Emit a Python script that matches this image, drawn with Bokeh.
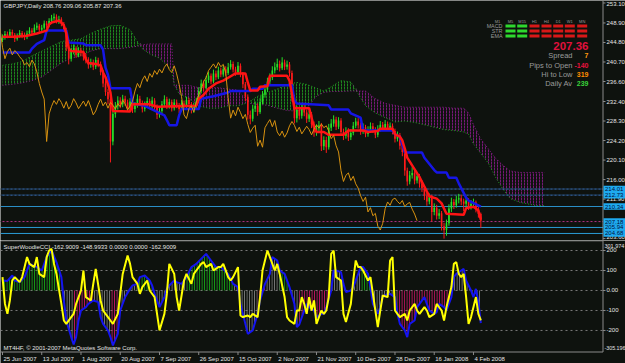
import numpy as np
from bokeh.plotting import figure
from bokeh.models import Range1d, Span
from bokeh.layouts import column
from bokeh.embed import file_html
from bokeh.resources import INLINE
from bokeh.core.properties import value

# ------------------------------------------------------------------ data
title_text = "GBPJPY,Daily  208.76 209.06 205.87 207.36"
date_tick_bars = [0, 16, 32, 48, 64, 80, 96, 112, 128, 144, 160, 176, 192]
date_tick_labels = ["25 Jun 2007", "13 Jul 2007", "1 Aug 2007", "20 Aug 2007", "7 Sep 2007",
                    "26 Sep 2007", "15 Oct 2007", "2 Nov 2007", "21 Nov 2007", "10 Dec 2007",
                    "28 Dec 2007", "16 Jan 2008", "4 Feb 2008"]
price_ticks = [253.10, 248.90, 244.80, 240.70, 236.60, 232.40, 228.30, 224.20, 220.10, 216.00, 211.90, 203.60]
price_tick_labels = ["253.10", "248.90", "244.80", "240.70", "236.60", "232.40", "228.30", "224.20",
                     "220.10", "216.00", "211.90", "203.60"]
cci_ticks = [200, 100, 0, -100, -200]
cci_tick_labels = ["200", "100", "0.00", "-100", "-200"]

opens = [245.3, 245.8, 246.6, 246.2, 247.0, 246.4, 245.6, 246.1, 246.8, 246.3,
         245.9, 246.7, 247.3, 246.9, 247.9, 248.3, 247.5, 247.9, 248.8, 248.4,
         249.3, 249.9, 250.2, 249.2, 249.7, 248.7, 247.6, 243.8, 241.4, 242.9,
         243.6, 242.2, 243.1, 242.6, 241.8, 241.2, 240.1, 240.6, 239.7, 241.1,
         240.3, 238.6, 236.2, 234.4, 232.9, 224.0, 229.8, 231.4, 232.6, 231.8,
         233.0, 232.2, 231.0, 232.4, 230.8, 231.6, 233.0, 232.1, 230.9, 231.7,
         232.5, 231.4, 232.6, 231.2, 229.6, 230.4, 231.8, 232.9, 231.5, 232.3,
         231.0, 232.2, 231.6, 230.8, 232.0, 231.3, 232.7, 231.9, 230.6, 231.5,
         232.4, 234.6, 236.2, 235.3, 236.9, 237.8, 236.6, 238.3, 237.5, 238.9,
         238.1, 239.2, 238.4, 239.6, 240.3, 239.1, 238.5, 239.9, 238.2, 236.0,
         233.4, 229.6, 228.8, 230.9, 231.5, 230.2, 232.3, 233.8, 234.9, 236.6,
         237.4, 238.9, 239.6, 240.3, 239.4, 240.6, 239.7, 240.2, 238.4, 233.2,
         228.9, 230.6, 229.4, 231.2, 230.1, 228.8, 229.7, 227.6, 225.9, 226.8,
         227.4, 223.0, 224.3, 222.8, 226.9, 227.8, 228.6, 227.1, 228.4, 226.0,
         225.2, 226.2, 224.9, 225.8, 227.3, 228.2, 227.4, 226.1, 227.0, 225.6,
         226.4, 227.2, 226.5, 225.4, 226.6, 227.5, 226.8, 227.7, 226.9, 227.3,
         226.2, 224.6, 225.3, 223.1, 221.8, 217.9, 215.6, 216.9, 217.4, 215.8,
         216.7, 215.1, 214.2, 212.6, 211.4, 212.3, 209.2, 210.1, 208.4, 208.9,
         206.2, 205.4, 206.8, 209.9, 211.3, 210.6, 211.8, 212.1, 211.4, 210.9,
         211.6, 210.3, 210.9, 211.2, 209.8, 208.76]
highs = [246.5, 247.2, 247.1, 247.6, 247.5, 246.8, 246.7, 247.4, 247.2, 246.9,
         247.3, 248.0, 247.8, 248.6, 249.0, 248.7, 248.5, 249.4, 249.3, 249.9,
         250.6, 250.9, 250.7, 250.4, 250.1, 249.1, 247.9, 244.5, 243.6, 244.4,
         244.0, 243.8, 243.7, 243.1, 242.5, 241.7, 241.4, 241.2, 241.8, 241.6,
         240.8, 239.0, 236.9, 235.0, 233.5, 230.6, 232.3, 233.5, 233.3, 233.8,
         233.6, 232.8, 233.1, 232.9, 232.3, 233.9, 233.6, 232.6, 232.4, 233.3,
         233.0, 233.4, 233.1, 231.8, 231.2, 232.5, 233.7, 233.4, 233.0, 232.8,
         232.9, 232.8, 232.1, 232.7, 232.6, 233.4, 233.2, 232.3, 232.1, 233.2,
         235.4, 237.0, 236.8, 237.7, 238.6, 238.3, 239.1, 238.9, 239.7, 239.5,
         240.0, 239.8, 240.5, 241.1, 240.8, 239.7, 240.7, 240.4, 238.6, 236.5,
         233.9, 230.5, 231.7, 232.4, 232.0, 233.1, 234.6, 235.7, 237.4, 238.3,
         239.8, 240.6, 241.4, 241.0, 241.7, 241.2, 241.0, 240.7, 238.9, 233.8,
         231.5, 231.3, 232.0, 231.9, 230.7, 230.5, 230.2, 228.2, 227.6, 228.3,
         227.9, 225.1, 225.0, 227.7, 228.7, 229.5, 229.2, 229.1, 228.9, 226.7,
         227.0, 226.8, 226.6, 228.1, 229.0, 228.9, 228.0, 227.8, 227.5, 227.2,
         228.0, 227.9, 227.0, 227.4, 228.3, 228.1, 228.5, 228.2, 228.0, 227.8,
         226.7, 226.1, 225.8, 223.7, 222.4, 218.5, 217.8, 218.6, 218.0, 217.6,
         217.2, 215.8, 214.8, 213.2, 213.1, 212.8, 211.0, 210.7, 209.8, 209.4,
         206.9, 207.6, 210.8, 212.2, 211.9, 212.6, 213.0, 212.8, 212.0, 212.4,
         212.1, 211.7, 212.0, 211.6, 210.3, 209.06]
lows = [244.9, 245.4, 245.7, 245.9, 245.8, 244.9, 245.2, 245.8, 245.7, 245.3,
        245.5, 246.3, 246.4, 246.5, 247.4, 247.0, 247.1, 247.5, 247.8, 248.0,
        248.9, 249.4, 248.8, 248.7, 248.2, 247.0, 243.0, 240.2, 240.8, 242.3,
        241.6, 241.7, 241.9, 241.0, 240.4, 239.3, 239.5, 239.0, 239.2, 239.6,
        237.9, 235.4, 233.6, 231.8, 219.6, 223.2, 229.0, 230.7, 231.0, 231.2,
        231.5, 230.2, 230.5, 230.0, 230.1, 231.1, 231.5, 230.1, 230.3, 231.2,
        230.8, 230.9, 230.5, 228.7, 229.0, 229.9, 231.3, 230.8, 230.9, 230.3,
        230.5, 231.0, 230.0, 230.3, 230.6, 230.9, 231.2, 229.9, 230.0, 231.0,
        232.0, 234.1, 234.6, 234.9, 236.3, 236.0, 236.2, 236.9, 237.1, 237.5,
        237.6, 237.8, 238.0, 239.1, 238.5, 237.8, 238.1, 237.5, 235.2, 232.5,
        228.6, 227.6, 228.2, 230.2, 229.4, 229.8, 231.8, 233.2, 234.4, 236.0,
        236.9, 238.3, 239.0, 238.7, 239.0, 239.0, 239.1, 237.6, 232.4, 227.8,
        228.0, 228.6, 228.8, 229.3, 227.9, 228.1, 226.8, 225.0, 225.2, 226.1,
        222.0, 222.2, 221.6, 222.3, 226.2, 227.1, 226.4, 226.6, 225.2, 224.3,
        224.6, 224.1, 224.3, 225.3, 226.8, 226.7, 225.4, 225.6, 224.9, 225.0,
        225.9, 225.8, 224.7, 224.9, 226.1, 226.2, 226.3, 226.3, 226.4, 225.5,
        223.8, 224.0, 222.3, 220.9, 216.8, 214.7, 215.0, 216.2, 215.0, 215.2,
        214.3, 213.4, 211.7, 210.5, 210.8, 207.2, 208.5, 207.6, 207.7, 205.3,
        203.6, 204.2, 206.3, 209.2, 209.8, 210.1, 211.0, 210.6, 209.4, 210.3,
        209.6, 209.7, 210.2, 209.1, 208.0, 205.87]
closes = [245.8, 246.6, 246.2, 247.0, 246.4, 245.6, 246.1, 246.8, 246.3, 245.9,
          246.7, 247.3, 246.9, 247.9, 248.3, 247.5, 247.9, 248.8, 248.4, 249.3,
          249.9, 250.2, 249.2, 249.7, 248.7, 247.6, 243.8, 241.4, 242.9, 243.6,
          242.2, 243.1, 242.6, 241.8, 241.2, 240.1, 240.6, 239.7, 241.1, 240.3,
          238.6, 236.2, 234.4, 232.9, 224.0, 229.8, 231.4, 232.6, 231.8, 233.0,
          232.2, 231.0, 232.4, 230.8, 231.6, 233.0, 232.1, 230.9, 231.7, 232.5,
          231.4, 232.6, 231.2, 229.6, 230.4, 231.8, 232.9, 231.5, 232.3, 231.0,
          232.2, 231.6, 230.8, 232.0, 231.3, 232.7, 231.9, 230.6, 231.5, 232.4,
          234.6, 236.2, 235.3, 236.9, 237.8, 236.6, 238.3, 237.5, 238.9, 238.1,
          239.2, 238.4, 239.6, 240.3, 239.1, 238.5, 239.9, 238.2, 236.0, 233.4,
          229.6, 228.8, 230.9, 231.5, 230.2, 232.3, 233.8, 234.9, 236.6, 237.4,
          238.9, 239.6, 240.3, 239.4, 240.6, 239.7, 240.2, 238.4, 233.2, 228.9,
          230.6, 229.4, 231.2, 230.1, 228.8, 229.7, 227.6, 225.9, 226.8, 227.4,
          223.0, 224.3, 222.8, 226.9, 227.8, 228.6, 227.1, 228.4, 226.0, 225.2,
          226.2, 224.9, 225.8, 227.3, 228.2, 227.4, 226.1, 227.0, 225.6, 226.4,
          227.2, 226.5, 225.4, 226.6, 227.5, 226.8, 227.7, 226.9, 227.3, 226.2,
          224.6, 225.3, 223.1, 221.8, 217.9, 215.6, 216.9, 217.4, 215.8, 216.7,
          215.1, 214.2, 212.6, 211.4, 212.3, 209.2, 210.1, 208.4, 208.9, 206.2,
          205.4, 206.8, 209.9, 211.3, 210.6, 211.8, 212.1, 211.4, 210.9, 211.6,
          210.3, 210.9, 211.2, 209.8, 208.76, 207.36]

tenkan_bars = [0, 5, 10, 14, 18, 19, 20, 23, 24, 25, 26, 27, 28, 33, 34, 35, 38, 40, 41, 42,
               43, 44, 45, 52, 53, 60, 63, 70, 79, 80, 82, 84, 87, 90, 92, 95, 99, 100, 101, 104,
               105, 108, 109, 116, 117, 118, 119, 125, 126, 127, 128, 131, 133, 139, 141, 147, 149, 153, 154, 159,
               160, 162, 163, 164, 165, 170, 174, 177, 179, 181, 188, 189, 192, 194, 195]
tenkan_vals = [246.0, 246.0, 246.2, 246.7, 247.3, 248.6, 249.0, 249.4, 249.0, 248.4, 246.7, 243.5, 243.0, 242.8, 241.2, 240.5, 240.3, 240.0, 238.5, 237.5,
               236.0, 234.3, 230.4, 230.3, 231.8, 231.8, 231.3, 231.4, 231.5, 233.0, 233.8, 235.1, 236.2, 236.8, 237.4, 238.3, 238.3, 236.4, 234.7, 234.7,
               235.5, 235.6, 237.8, 237.8, 236.8, 234.0, 231.0, 231.0, 229.0, 227.0, 226.0, 226.0, 225.4, 225.4, 226.3, 226.3, 226.0, 226.2, 226.7, 226.7,
               225.5, 225.0, 224.2, 222.5, 220.6, 216.5, 212.5, 212.0, 211.0, 208.8, 208.6, 210.0, 210.3, 209.5, 207.6]
kijun_bars = [0, 11, 12, 14, 17, 18, 26, 27, 33, 34, 40, 41, 42, 43, 44, 52, 53, 58, 62, 66,
              67, 68, 71, 72, 73, 80, 81, 86, 92, 93, 101, 102, 106, 107, 118, 119, 120, 133, 134, 141,
              142, 146, 147, 159, 160, 162, 164, 171, 172, 176, 177, 181, 182, 185, 186, 189, 190, 195]
kijun_vals = [242.7, 242.7, 243.5, 244.5, 245.3, 247.3, 247.3, 244.8, 244.6, 244.2, 244.2, 243.3, 239.5, 238.0, 235.2, 235.2, 232.0, 231.5, 230.5, 229.5,
              228.5, 227.4, 227.4, 229.5, 230.8, 230.8, 233.0, 233.5, 234.3, 234.6, 234.6, 235.1, 235.1, 235.8, 235.8, 232.6, 232.0, 231.6, 230.7, 230.7,
              229.9, 229.0, 226.3, 226.3, 225.5, 225.0, 221.7, 221.7, 220.6, 218.0, 217.5, 217.5, 216.4, 216.4, 215.2, 212.2, 211.6, 210.3]

cloud_bars = [0, 4, 8, 12, 16, 20, 24, 28, 32, 36, 40, 44, 48, 52, 55, 57, 60, 64, 67, 69,
              70, 72, 76, 80, 84, 88, 92, 96, 99, 101, 104, 108, 112, 116, 120, 124, 128, 131, 134, 138,
              142, 145, 148, 152, 156, 160, 164, 168, 172, 176, 180, 184, 188, 190, 192, 195, 198, 201, 204, 207,
              211, 215, 218, 221]
senkou_a = [240.0, 240.3, 240.8, 242.0, 243.0, 244.0, 245.0, 245.3, 245.6, 246.7, 247.6, 248.3, 248.4, 247.5, 245.0, 243.5, 242.4, 241.5, 240.0, 239.0,
            236.0, 234.0, 233.0, 231.5, 231.0, 231.0, 231.5, 231.5, 232.0, 232.5, 233.5, 234.3, 235.0, 236.0, 236.4, 236.0, 235.2, 234.6, 235.5, 236.8,
            236.5, 234.0, 231.5, 230.0, 229.0, 228.1, 228.3, 228.0, 227.5, 227.0, 226.5, 226.3, 226.0, 225.5, 223.5, 221.5, 219.5, 216.5, 214.0, 212.0,
            211.2, 210.8, 210.5, 210.5]
senkou_b = [235.8, 236.0, 236.3, 236.8, 237.5, 239.0, 240.5, 241.5, 242.0, 243.0, 243.5, 243.5, 243.5, 243.8, 244.0, 244.3, 244.5, 244.5, 244.5, 244.5,
            235.6, 235.8, 235.8, 235.3, 235.3, 235.3, 235.0, 234.8, 233.0, 232.0, 231.8, 231.6, 231.0, 230.5, 230.4, 231.0, 233.5, 234.3, 234.5, 234.5,
            234.6, 234.6, 234.6, 233.0, 232.0, 231.6, 231.2, 231.2, 231.2, 231.2, 231.2, 231.0, 231.0, 230.0, 227.5, 224.5, 222.5, 220.5, 219.0, 217.8,
            217.5, 217.5, 217.5, 217.5]
chikou_shift = 26

level_prices = [214.01, 212.73, 210.34, 207.18, 205.94, 204.68]
level_labels = ["214.01", "212.73", "210.34", "207.18", "205.94", "204.68"]
level_colors = ["#3a74c0", "#3a74c0", "#2a8ec6", "#b03280", "#2a9cd6", "#2a9cd6"]
level_dashes = ["2 2", "2 2", "solid", "2 2", "solid", "solid"]

tf_names = ["M1", "M5", "M15", "H1", "H4", "D1", "W1", "MN"]
sig_rows = ["MACD", "STR", "EMA"]
sig_macd = [1, 1, -1, -1, -1, -1, -1]
sig_str = [1, 1, -1, -1, -1, -1, -1]
sig_ema = [1, 1, -1, -1, -1, -1, -1]

price_now = "207.36"
stat_names = ["Spread", "Pips to Open", "Hi to Low", "Daily Av"]
stat_values = ["7", "-140", "319", "239"]
stat_colors = ["#ff9a10", "#e8103c", "#ff8c00", "#3ad23a"]

cci_bars = [0, 2, 4, 5, 7, 9, 11, 14, 16, 18, 20, 22, 24, 25, 26, 28, 29, 30, 31, 32,
            34, 35, 37, 39, 40, 41, 43, 44, 45, 47, 48, 50, 52, 53, 55, 56, 58, 60, 61, 62,
            64, 66, 67, 68, 70, 71, 73, 75, 77, 79, 81, 83, 85, 87, 89, 92, 94, 96, 97, 99,
            100, 102, 104, 105, 107, 109, 110, 112, 113, 115, 117, 119, 120, 121, 123, 124, 125, 127, 128, 130,
            131, 132, 134, 135, 136, 138, 139, 140, 142, 143, 145, 146, 147, 149, 150, 151, 153, 154, 155, 157,
            158, 160, 161, 162, 164, 165, 166, 168, 169, 170, 172, 173, 174, 176, 177, 178, 180, 181, 183, 184,
            185, 187, 188, 189, 191, 192, 193, 194, 195]
cci_vals = [50, 48, 75, 50, 42, 67, 133, 117, 100, 167, 200, 142, 67, -50, -150, -233, -270, -233, -150, -100,
            -83, -67, -50, -58, -133, -167, -200, -233, -275, -217, -100, -33, 8, 25, 33, 67, 75, 50, 25, -17,
            -83, -33, 8, 25, 50, 42, 33, 67, 117, 133, 158, 183, 150, 117, 117, 83, 33, 17, -67, -167,
            -217, -200, -117, -50, 33, 83, 167, 150, 100, 83, 17, -67, -183, -170, -100, -67, -83, -100, -133, -117,
            -117, -83, 0, 100, 100, 92, 33, -8, 0, 17, 83, 117, 117, 83, 17, -67, -117, -83, -33, -17,
            -17, -33, -117, -167, -200, -233, -167, -150, -83, -67, -33, -67, -100, -117, -108, -67, -83, -100, -33, 67,
            83, 100, 108, 50, 0, -33, 8, -60, -162.9]
tcci_bars = [0, 1, 2, 3, 4, 5, 7, 8, 9, 10, 11, 13, 14, 15, 17, 18, 19, 20, 21, 22,
             24, 25, 26, 28, 29, 30, 32, 33, 34, 36, 37, 38, 40, 41, 43, 44, 45, 47, 48, 49,
             51, 52, 53, 55, 56, 57, 59, 60, 62, 63, 64, 66, 67, 68, 70, 71, 72, 74, 75, 77,
             78, 79, 81, 82, 83, 85, 86, 88, 89, 90, 92, 93, 94, 96, 97, 98, 100, 101, 102, 104,
             105, 106, 108, 109, 111, 112, 113, 115, 116, 117, 119, 120, 121, 122, 123, 124, 125, 126, 127, 128,
             130, 131, 132, 133, 134, 135, 136, 138, 139, 140, 142, 143, 144, 145, 146, 147, 149, 150, 151, 153,
             154, 155, 157, 158, 159, 160, 161, 162, 164, 165, 166, 168, 169, 170, 172, 173, 174, 176, 177, 179,
             180, 181, 183, 184, 185, 186, 187, 188, 189, 190, 191, 192, 193, 194, 195]
tcci_vals = [67, -67, -117, -50, 50, 67, 42, 67, 117, 167, 133, 117, 167, 83, 67, 167, 200, 208, 133, 83,
             -67, -150, -167, -133, -117, -67, 0, 100, -33, -50, 33, 108, -50, -100, -133, -150, -167, -117, -17, 83,
             175, 133, 67, 33, -17, 17, 50, 0, -33, -117, -200, -117, -17, 133, 83, -33, -100, 50, 83, 33,
             83, 100, 133, 142, 117, 133, 100, 117, 117, 133, 67, 50, 67, 117, -125, -133, -125, -133, -117, -133,
             -33, 100, 200, 167, 100, 133, 83, -33, -133, -150, -167, -100, -100, -33, -67, -117, -33, -100, -50, -167,
             -100, -117, -100, -33, 183, 200, 67, 50, -117, -158, -67, 50, 150, 117, 117, 100, 50, 67, -17, -183,
             -100, -25, -33, 150, 167, -100, -117, -133, -117, -150, -100, -67, -100, -117, -83, -100, -133, -117, -67, -100,
             -150, -83, 17, 133, 142, 83, 67, 83, -33, -167, -133, -83, -33, -117, -149]
hist_segments = [(0, 24, "up"), (24, 29, "flat"), (29, 37, "down"), (37, 44, "flat"), (44, 47, "down"),
                 (47, 55, "flat"), (55, 61, "up"), (61, 75, "flat"), (75, 95, "up"), (95, 104, "flat"),
                 (104, 107, "down"), (107, 113, "flat"), (113, 117, "up"), (117, 121, "flat"), (121, 134, "down"),
                 (134, 146, "flat"), (146, 150, "up"), (150, 161, "flat"), (161, 183, "down"), (183, 197, "flat")]
cci_title = "SuperWoodieCCI -162.9009 -148.9933 0.0000 0.0000 -162.9009"
cci_max_label = "301.974"
cci_min_label = "-305.196"
copyright_text = "MT4HF, \u00a9 2001-2007 MetaQuotes Software Corp."

# ------------------------------------------------------------------ style / layout
BG = "#0e120e"
AXIS = "#8a8a8a"
TXT = "#e4e4e4"
GREY = "#9a9a9a"
FONT = "Liberation Sans"
UP, DOWN = "#26e026", "#ff1a1a"
CLOUD_UP, CLOUD_DN = "#22a022", "#8e1a8e"
HIST_COLORS = {"up": "#16b416", "down": "#e0146e", "flat": "#8a8a8a"}

PXB = 2.453                      # pixels per bar
X0 = -2.0 / PXB
W = 625
XR = Range1d(X0, X0 + W / PXB)
Y_TOP, Y_BOT, MAIN_H = 253.62, 203.2, 240
LOW_H = 123
L_TOP = 250.0
L_PER_PX = (250.0 + 305.196) / 111
L_BOT = L_TOP - LOW_H * L_PER_PX


def dx(px):
    return X0 + px / PXB


def dy(py):
    return Y_TOP - py * (Y_TOP - Y_BOT) / MAIN_H


def dyl(py):
    return L_TOP - (py - MAIN_H) * L_PER_PX


AXX = dx(602.5)                  # price axis line position


def txt(fig, xs, ys, texts, size, color, align="left", style="normal", yoff=0, xoff=0):
    fig.text(x=xs, y=ys, text=texts, text_font=value(FONT), text_font_size=size,
             text_color=color, text_align=align, text_baseline="middle", text_font_style=style,
             y_offset=yoff, x_offset=xoff)


def price_scale(fig, ticks, labels, y_from, y_to, yoffs=0):
    fig.segment(x0=[AXX], y0=[y_from], x1=[AXX], y1=[y_to], line_color=AXIS, line_width=1)
    n = len(ticks)
    fig.segment(x0=[AXX] * n, y0=ticks, x1=[dx(605)] * n, y1=ticks, line_color=AXIS, line_width=1)
    txt(fig, [dx(606)] * n, ticks, labels, "6px", TXT, yoff=yoffs)


# ------------------------------------------------------------------ main price panel
p = figure(frame_width=W, frame_height=MAIN_H, x_range=XR, y_range=Range1d(Y_BOT, Y_TOP),
           x_axis_location=None, y_axis_location=None, output_backend="svg", toolbar_location=None,
           title=None, min_border=0, background_fill_color=BG, border_fill_color=BG, outline_line_color=None)
p.grid.visible = False

# Ichimoku cloud (dotted hatch)
sa, sb = np.array(senkou_a), np.array(senkou_b)
up_cloud = sa >= sb
p.varea(x=cloud_bars, y1=sb, y2=np.where(up_cloud, sa, sb), fill_alpha=0,
        hatch_pattern=":", hatch_color=CLOUD_UP, hatch_scale=3, hatch_weight=1, hatch_alpha=0.8)
p.varea(x=cloud_bars, y1=sa, y2=np.where(~up_cloud, sb, sa), fill_alpha=0,
        hatch_pattern=":", hatch_color=CLOUD_DN, hatch_scale=3, hatch_weight=1, hatch_alpha=0.8)
p.line(cloud_bars, senkou_a, line_color=CLOUD_UP, line_dash="1 2", line_width=1)
p.line(cloud_bars, senkou_b, line_color=CLOUD_DN, line_dash="1 2", line_width=1)

# horizontal levels
nl = len(level_prices)
p.segment(x0=[X0] * nl, y0=level_prices, x1=[AXX] * nl, y1=level_prices, line_color=level_colors,
          line_width=1)
for lv, dash in zip(level_prices, level_dashes):
    if dash != "solid":
        p.segment(x0=[X0], y0=[lv], x1=[AXX], y1=[lv], line_color=BG, line_dash=dash, line_width=1)

# candles
bars = np.arange(len(closes))
o, c = np.array(opens), np.array(closes)
ccol = [UP if cc >= oo else DOWN for oo, cc in zip(o, c)]
p.segment(x0=bars, y0=lows, x1=bars, y1=highs, line_color=ccol, line_width=1)
p.vbar(x=bars, width=0.66, top=np.maximum(o, c), bottom=np.minimum(o, c),
       fill_color=ccol, line_color=None)

# Kijun / Tenkan / Chikou
p.line(kijun_bars, kijun_vals, line_color="#1616e6", line_width=2.5)
p.line(tenkan_bars, tenkan_vals, line_color="#ff1414", line_width=2.5)
p.line(bars - chikou_shift, closes, line_color="#d89210", line_width=1)

# price scale + boxed level labels
price_offsets = [1.5 if i == 0 else (-1.5 if i == len(price_ticks) - 1 else 0) for i in range(len(price_ticks))]
price_scale(p, price_ticks, price_tick_labels, Y_TOP, Y_BOT, yoffs=price_offsets)
p.rect(x=[dx(614)] * nl, y=level_prices, width=22, height=6.5, width_units="screen",
       height_units="screen", fill_color="#1eaaf0", line_color=None)
txt(p, [dx(604.5)] * nl, level_prices, level_labels, "6px", "#00103a")

# title
txt(p, [dx(3)], [dy(5.5)], [title_text], "6px", TXT)

# multi time-frame signal table
col_px = [497, 510, 521.7, 534, 546, 557.7, 569.3, 581.7]
txt(p, [dx(v) for v in col_px], [dy(21)] * len(tf_names), tf_names, "4px", GREY, align="center")
row_py = [25.6, 30.6, 35.6]
txt(p, [dx(502)] * 3, [dy(v) for v in row_py], sig_rows, "5.4px", GREY, align="right")
sx, sy, scol = [], [], []
for rpy, sig in zip(row_py, [sig_macd, sig_str, sig_ema]):
    for cpx, s in zip(col_px[1:], sig):
        sx.append(dx(cpx))
        sy.append(dy(rpy))
        scol.append("#2ed82e" if s > 0 else "#d81818")
p.rect(x=sx, y=sy, width=10, height=3, width_units="screen", height_units="screen",
       fill_color=scol, line_color=None)

txt(p, [dx(588)], [dy(45)], [price_now], "11.5px", "#e0103c", align="right", style="bold")
stat_py = [55.3, 64.5, 74, 83.3]
txt(p, [dx(572)] * 4, [dy(v) for v in stat_py], stat_names, "7.5px", GREY, align="right")
txt(p, [dx(588)] * 4, [dy(v) for v in stat_py], stat_values, "7px", stat_colors, align="right", style="bold")

# ------------------------------------------------------------------ CCI panel (with time scale)
q = figure(frame_width=W, frame_height=LOW_H, x_range=XR, y_range=Range1d(L_BOT, L_TOP),
           x_axis_location=None, y_axis_location=None, output_backend="svg", toolbar_location=None,
           title=None, min_border=0, background_fill_color=BG, border_fill_color=BG, outline_line_color=None)
q.grid.visible = False

Y_AX = dyl(351.5)
q.segment(x0=[X0], y0=[L_TOP - 1.5], x1=[AXX], y1=[L_TOP - 1.5], line_color=AXIS, line_width=1)
nc = len(cci_ticks)
q.segment(x0=[X0] * nc, y0=cci_ticks, x1=[AXX] * nc, y1=cci_ticks, line_color="#7a7a7a",
          line_dash="2 3", line_width=1)

# histogram (vertical line hatch between 0 and CCI)
hxs, hys, hcol = [], [], []
for i in range(len(cci_bars) - 1):
    x0, x1 = cci_bars[i], cci_bars[i + 1]
    mid = 0.5 * (x0 + x1)
    state = next(s for (a, b, s) in hist_segments if a <= mid < b)
    hxs.append([x0, x0, x1, x1])
    hys.append([0, cci_vals[i], cci_vals[i + 1], 0])
    hcol.append(HIST_COLORS[state])
q.patches(hxs, hys, fill_color=None, line_color=None, hatch_pattern="|", hatch_color=hcol,
          hatch_scale=2.5, hatch_weight=1)
q.line(cci_bars, cci_vals, line_color="#1414f0", line_width=2)
q.line(tcci_bars, tcci_vals, line_color="#ffff00", line_width=2)

price_scale(q, cci_ticks, cci_tick_labels, L_TOP, Y_AX)
txt(q, [dx(604)], [dyl(245)], [cci_max_label], "5.5px", TXT)
txt(q, [dx(604)], [dyl(347.5)], [cci_min_label], "5.3px", TXT)
txt(q, [dx(3)], [dyl(246.7)], [cci_title], "6px", TXT)
txt(q, [dx(3)], [dyl(347)], [copyright_text], "6px", TXT)

# time scale
nd = len(date_tick_bars)
q.segment(x0=[X0], y0=[Y_AX], x1=[AXX], y1=[Y_AX], line_color=AXIS, line_width=1)
q.segment(x0=date_tick_bars, y0=[Y_AX] * nd, x1=date_tick_bars, y1=[dyl(354.5)] * nd,
          line_color=AXIS, line_width=1)
txt(q, date_tick_bars, [dyl(358.3)] * nd, date_tick_labels, "6px", TXT, xoff=1)

layout = column(p, q, spacing=0)
open("out.html", "w").write(file_html(layout, INLINE))
